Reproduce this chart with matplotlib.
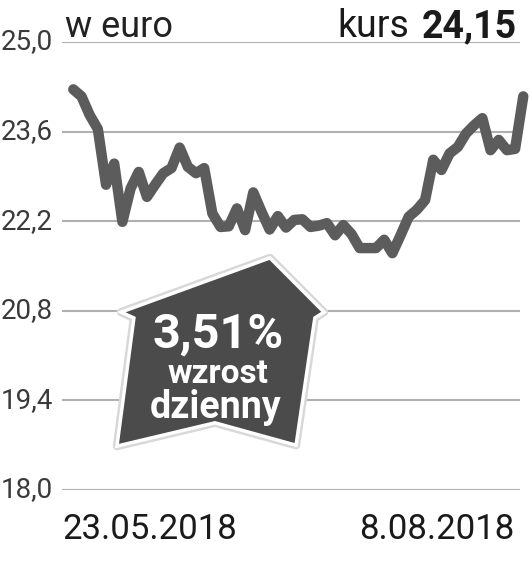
import matplotlib
matplotlib.use('Agg')
import matplotlib.pyplot as plt
from matplotlib.patches import Polygon

# kurs w euro, kolejne sesje od 23.05 do 8.08.2018
dni = list(range(56))
kurs = [24.26, 24.15, 23.86, 23.64, 22.77, 23.10, 22.19, 22.71, 22.97, 22.58,
        22.77, 22.95, 23.03, 23.35, 23.05, 22.95, 23.03, 22.32, 22.11, 22.12,
        22.40, 22.06, 22.65, 22.35, 22.07, 22.28, 22.10, 22.22, 22.23, 22.11,
        22.13, 22.17, 21.98, 22.14, 22.00, 21.78, 21.78, 21.78, 21.91, 21.70,
        21.98, 22.27, 22.38, 22.53, 23.16, 23.00, 23.26, 23.36, 23.57, 23.70,
        23.81, 23.31, 23.47, 23.31, 23.33, 24.15]

y_ticks = [18.0, 19.4, 20.8, 22.2, 23.6, 25.0]
y_labels = ['18,0', '19,4', '20,8', '22,2', '23,6', '25,0']
data_start = '23.05.2018'
data_end = '8.08.2018'
ostatni = '24,15'
zmiana = '3,51%'

plt.rcParams['font.family'] = ['Roboto', 'DejaVu Sans']

fig = plt.figure(figsize=(5.3, 5.65), dpi=100)
ax = fig.add_axes([62/530, 1 - 490/565, 458/530, 448/565])
ax.set_xlim(-1.38, 54.6)
ax.set_ylim(18, 25)
for s in ax.spines.values():
    s.set_visible(False)
ax.set_xticks([])
ax.set_yticks([])

for v, lab in zip(y_ticks, y_labels):
    ax.axhline(v, color='#b0b0b0', lw=1.5, zorder=1)
    ax.text(-0.02, v, lab, transform=ax.get_yaxis_transform(), ha='right',
            va='center', fontsize=20, color='#3a3a3a')

ax.plot(dni, kurs, color='#5c5c5c', lw=7.5, solid_joinstyle='round',
        solid_capstyle='round', clip_on=False, zorder=3)

# strzalka
pts = [(0.454, 0.518), (0.572, 0.397), (0.552, 0.384), (0.511, 0.100),
       (0.334, 0.150), (0.120, 0.098), (0.157, 0.384), (0.129, 0.397)]
ax.add_patch(Polygon(pts, closed=True, transform=ax.transAxes, facecolor='none',
                     edgecolor='#d8d8d8', lw=6, joinstyle='round', zorder=4))
ax.add_patch(Polygon(pts, closed=True, transform=ax.transAxes, facecolor='#4b4b4b',
                     edgecolor='white', lw=2.5, joinstyle='miter', zorder=5))
ax.text(0.341, 0.318, zmiana, transform=ax.transAxes, ha='center', va='baseline',
        fontsize=35, fontweight='bold', color='white', zorder=6)
ax.text(0.341, 0.239, 'wzrost', transform=ax.transAxes, ha='center', va='baseline',
        fontsize=24, fontweight='bold', color='white', zorder=6)
ax.text(0.336, 0.161, 'dzienny', transform=ax.transAxes, ha='center', va='baseline',
        fontsize=27, fontweight='bold', color='white', zorder=6)

# naglowek
ax.text(0.007, 1.011, 'w euro', transform=ax.transAxes, ha='left', va='baseline',
        fontsize=26, color='#222222')
t = ax.text(0.993, 1.011, ostatni, transform=ax.transAxes, ha='right', va='baseline',
            fontsize=27, fontweight='bold', color='#1a1a1a')
ax.annotate('kurs', xy=(0, 0), xycoords=t, xytext=(-12, 0), textcoords='offset pixels',
            ha='right', va='bottom', fontsize=27, color='#1a1a1a')

# daty
ax.text(0, -0.109, data_start, transform=ax.transAxes, ha='left', va='baseline',
        fontsize=25, color='#1a1a1a')
ax.text(0.987, -0.109, data_end, transform=ax.transAxes, ha='right', va='baseline',
        fontsize=25, color='#1a1a1a')

fig.savefig('out.png', dpi=100)
